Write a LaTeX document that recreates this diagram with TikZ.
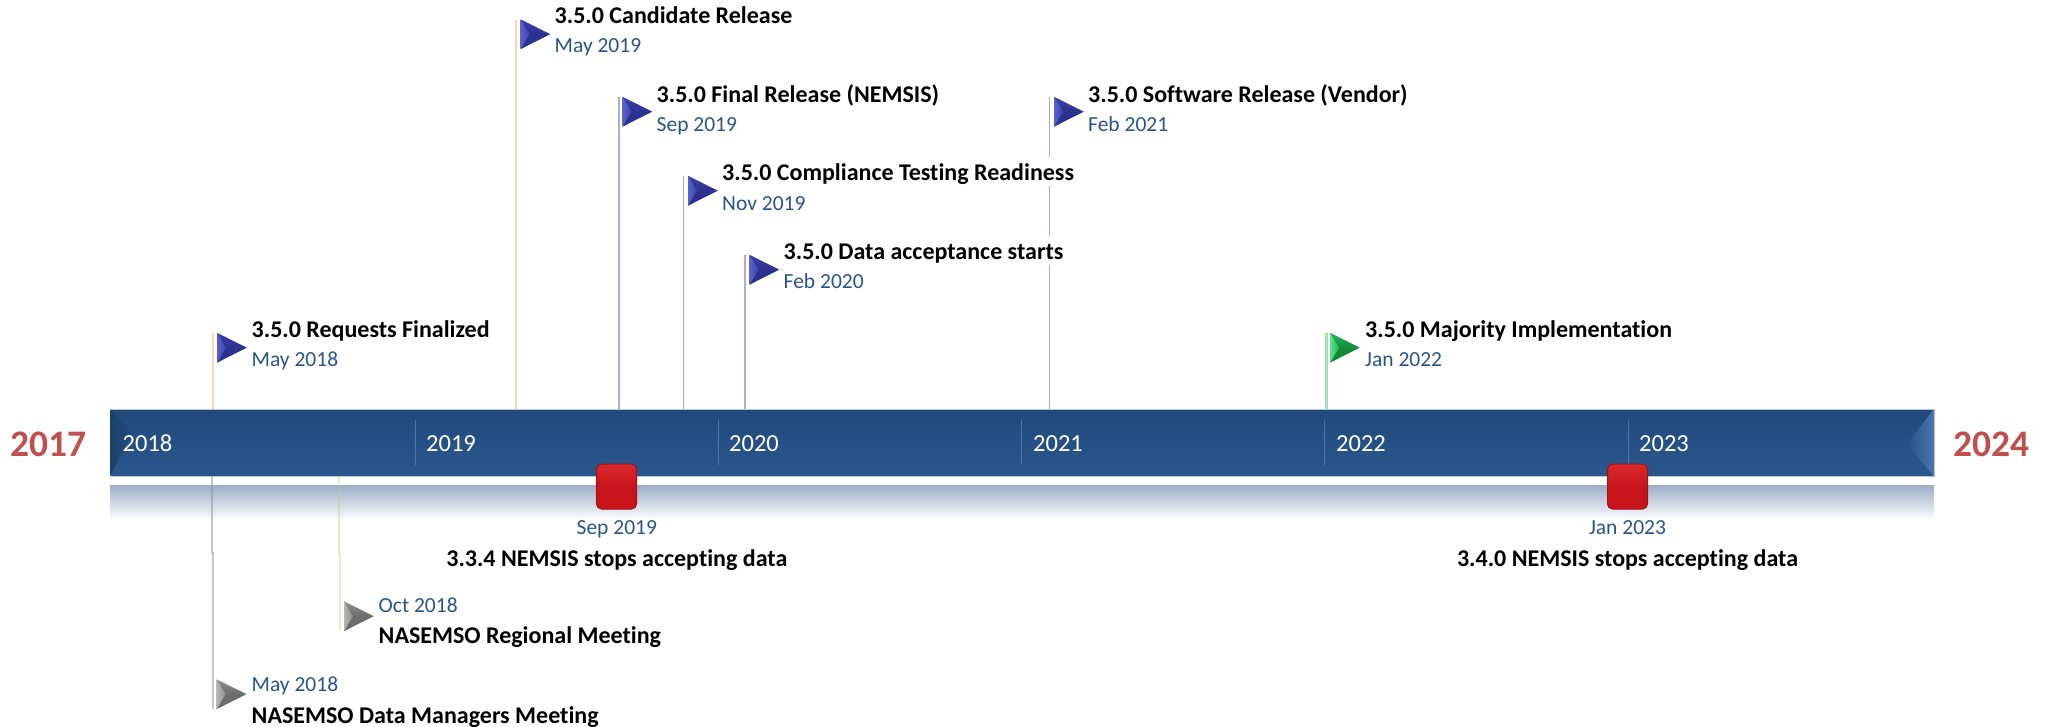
\documentclass[tikz,border=0pt]{standalone}
\usepackage{fontspec}
\setmainfont[Ligatures=NoCommon]{Carlito}
\definecolor{monthblue}{HTML}{2A5488}
\definecolor{yearred}{HTML}{C0504D}
\definecolor{bartop}{HTML}{214A7B}
\definecolor{barbot}{HTML}{2B578D}
\definecolor{barmid}{HTML}{265084}
\definecolor{barmid2}{HTML}{2D5A90}
\definecolor{baredge}{HTML}{4677AE}
\definecolor{barline}{HTML}{B9C6D8}
\definecolor{divline}{HTML}{5277A5}
\definecolor{shadetop}{HTML}{9DAEC8}
\definecolor{polepeach}{HTML}{F8D5BC}
\definecolor{poleblue}{HTML}{A9A9DC}
\definecolor{polegreen}{HTML}{A6E1B2}
\definecolor{poledark}{HTML}{8492A8}
\definecolor{polelime}{HTML}{B4D09A}
\definecolor{bl}{HTML}{5B62CC}\definecolor{bm}{HTML}{3D42AA}\definecolor{bd}{HTML}{2C308E}
\definecolor{gl}{HTML}{62E08A}\definecolor{gm}{HTML}{23B552}\definecolor{gd}{HTML}{128A3C}
\definecolor{yl}{HTML}{B5B5B5}\definecolor{ym}{HTML}{8E8E8E}\definecolor{yd}{HTML}{6C6C6C}
\definecolor{redm}{HTML}{C8141A}\definecolor{redd}{HTML}{A31014}\definecolor{redl}{HTML}{D92A2A}
\tikzset{
  titletext/.style={anchor=base west,inner sep=0pt,fill=white,text=black,font=\fontsize{24}{26}\selectfont\bfseries,text height=23pt,text depth=6pt},
  titlemid/.style={titletext,anchor=base},
  monthtext/.style={anchor=base west,inner sep=0pt,text=monthblue,font=\fontsize{21.5}{24}\selectfont},
  monthmid/.style={monthtext,anchor=base},
  yeartext/.style={anchor=base west,inner sep=0pt,text=white,font=\fontsize{24.5}{28}\selectfont},
  endyear/.style={anchor=base west,inner sep=0pt,text=yearred,font=\fontsize{37.5}{40}\selectfont\bfseries},
  divider/.style={draw=divline,line width=1pt},
  peachpole/.style={draw=polepeach,line width=2pt},
  bluepole/.style={draw=poleblue,line width=1.6pt},
  greenpole/.style={draw=polegreen,line width=2.4pt},
  darkpole/.style={draw=poledark,line width=2pt,opacity=.5},
  limepole/.style={draw=polelime,line width=2pt,opacity=.4},
  stopbox/.style={rectangle,rounded corners=5pt,inner sep=0pt,minimum width=40pt,minimum height=45pt,draw=redd,line width=1pt,top color=redl,bottom color=redm,middle color=redm},
}
% name, x, y (top left of the flag), colour letter
\newcommand{\flagmark}[4]{%
  \coordinate (#1) at (#2,#3);
  \begin{scope}[shift={(#2,#3)}]
    \fill[#4m] (0,0) -- (29.5,14.7) -- (0,29.5) -- cycle;
    \fill[#4d] (8,14.7) -- (29.5,14.7) -- (0,29.5) -- cycle;
    \shade[top color=#4m,bottom color=#4d] (8,14.7) -- (29.5,14.7) -- (0,0) -- cycle;
    \shade[left color=#4l,right color=#4m] (0,0) -- (9,14.7) -- (0,29.5) -- cycle;
  \end{scope}}
\begin{document}
\begin{tikzpicture}[x=1pt,y=-1pt]
\useasboundingbox (0,0) rectangle (2047,726);
% reflection under the bar
\node[rectangle,inner sep=0pt,anchor=north west,minimum width=1824pt,minimum height=35pt,top color=shadetop,bottom color=white] (shadow) at (110,485) {};
% bar
\node[rectangle,inner sep=0pt,anchor=north west,minimum width=1823.5pt,minimum height=66.7pt,top color=bartop,bottom color=barbot,draw=barline,line width=.8pt] (bar) at (110,409) {};
\shade[left color=barmid,middle color=barmid2,right color=baredge] (1907,444) -- (1933.3,409.5) -- (1933.3,475.5) -- cycle;
\shade[left color=bartop!88!black,right color=bartop] (110.5,409.5) -- (132,433) -- (110.5,475.5) -- cycle;
% dividers
\coordinate (d19) at (415,420);
\coordinate (d20) at (718,420);
\coordinate (d21) at (1021,420);
\coordinate (d22) at (1324.5,420);
\coordinate (d23) at (1628,420);
\coordinate (dend) at (0,465);
\draw[divider] (d19) -- (d19 |- dend);
\draw[divider] (d20) -- (d20 |- dend);
\draw[divider] (d21) -- (d21 |- dend);
\draw[divider] (d22) -- (d22 |- dend);
\draw[divider] (d23) -- (d23 |- dend);
% year labels
\node[yeartext] (y18) at (122.5,451) {2018};
\node[yeartext] (y19) at (426,451) {2019};
\node[yeartext] (y20) at (729,451) {2020};
\node[yeartext] (y21) at (1033,451) {2021};
\node[yeartext] (y22) at (1336,451) {2022};
\node[yeartext] (y23) at (1639,451) {2023};
\node[endyear] (y17) at (10,456) {2017};
\node[endyear] (y24) at (1953,456) {2024};
% poles above the bar
\coordinate (p1) at (213,333);
\coordinate (p2) at (516,20);
\coordinate (p3) at (618.7,97);
\coordinate (p4) at (683.5,176);
\coordinate (p5) at (745,255);
\coordinate (p6) at (1049.3,97);
\coordinate (p7) at (1326.5,333);
\draw[peachpole] (p1) -- (p1 |- bar.north);
\draw[peachpole] (p2) -- (p2 |- bar.north);
\draw[bluepole] (p3) -- (p3 |- bar.north);
\draw[bluepole] (p4) -- (p4 |- bar.north);
\draw[bluepole,line width=2pt] (p5) -- (p5 |- bar.north);
\draw[bluepole] (p6) -- (p6 |- bar.north);
\draw[greenpole] (p7) -- (p7 |- bar.north);
% poles below the bar
\coordinate (p8) at (212,476);
\coordinate (p8j) at (212,553);
\coordinate (p8k) at (213,553);
\coordinate (p8e) at (213,709);
\coordinate (p9) at (339,476);
\coordinate (p9j) at (339,553);
\coordinate (p9k) at (340,553);
\coordinate (p9e) at (340,631);
\draw[darkpole] (p8) -- (p8j) -- (p8k) -- (p8e);
\draw[limepole] (p9) -- (p9j) -- (p9k) -- (p9e);
% flags
\flagmark{f1}{217}{333}{b}
\flagmark{f2}{520.5}{19.5}{b}
\flagmark{f3}{622.5}{97}{b}
\flagmark{f4}{688}{176}{b}
\flagmark{f5}{749.5}{255}{b}
\flagmark{f6}{1054}{97}{b}
\flagmark{f7}{1330}{333}{g}
\flagmark{f8}{344}{601.5}{y}
\flagmark{f9}{216.7}{679.5}{y}
% milestones above
\node[titletext] (t1) at (251.5,337) {3.5.0 Requests Finalized};
\node[monthtext] (m1) at (251.5,366) {May 2018};
\node[titletext] (t2) at (554.5,23) {3.5.0 Candidate Release};
\node[monthtext] (m2) at (554.5,52.5) {May 2019};
\node[titletext] (t3) at (656.5,102) {3.5.0 Final Release (NEMSIS)};
\node[monthtext] (m3) at (656.5,131) {Sep 2019};
\node[titletext] (t4) at (722,180) {3.5.0 Compliance Testing Readiness};
\node[monthtext] (m4) at (722,210) {Nov 2019};
\node[titletext] (t5) at (783.5,259) {3.5.0 Data acceptance starts};
\node[monthtext] (m5) at (783.5,288) {Feb 2020};
\node[titletext] (t6) at (1088,102) {3.5.0 Software Release (Vendor)};
\node[monthtext] (m6) at (1088,131) {Feb 2021};
\node[titletext] (t7) at (1365,337) {3.5.0 Majority Implementation};
\node[monthtext] (m7) at (1365,366) {Jan 2022};
% milestones below
\node[monthtext] (m8) at (378.5,612) {Oct 2018};
\node[titletext] (t8) at (378.5,643) {NASEMSO Regional Meeting};
\node[monthtext] (m9) at (251.5,691) {May 2018};
\node[titletext] (t9) at (251.5,723) {NASEMSO Data Managers Meeting};
% stop markers
\node[stopbox] (s1) at (616.5,486.5) {};
\node[stopbox] (s2) at (1627.5,486.5) {};
\node[monthmid] (m10) at (616.8,534) {Sep 2019};
\node[titlemid] (t10) at (616.8,566) {3.3.4 NEMSIS stops accepting data};
\node[monthmid] (m11) at (1627.5,534) {Jan 2023};
\node[titlemid] (t11) at (1627.5,566) {3.4.0 NEMSIS stops accepting data};
\end{tikzpicture}
\end{document}
